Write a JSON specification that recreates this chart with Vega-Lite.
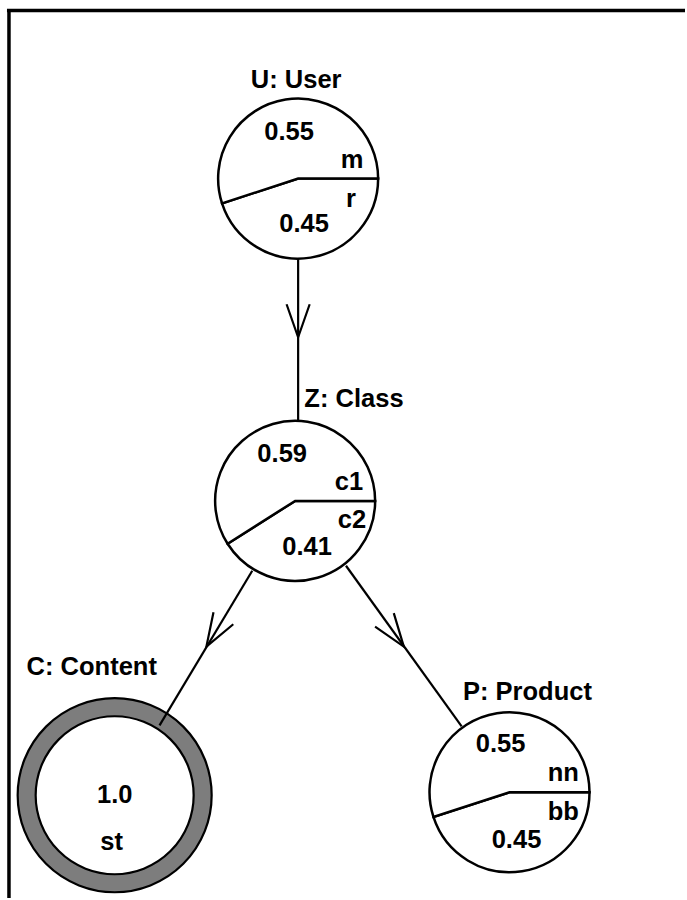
{
  "$schema": "https://vega.github.io/schema/vega-lite/v6.json",
  "width": 687,
  "height": 900,
  "autosize": {"type": "fit", "contains": "padding"},
  "padding": 0,
  "background": "white",
  "config": {"view": {"stroke": null}},
  "datasets": {
    "frame": [
      {"x": 7, "y": 10.5, "x2": 687, "y2": 10.5},
      {"x": 9, "y": 9, "x2": 9, "y2": 900}
    ],
    "edges": [
      {"from": "U", "to": "Z", "x": 299, "y": 259, "x2": 299, "y2": 422},
      {"from": "Z", "to": "C", "x": 253, "y": 572, "x2": 160, "y2": 727},
      {"from": "Z", "to": "P", "x": 347, "y": 567, "x2": 463, "y2": 728}
    ],
    "arrows": [
      {"from": "U", "to": "Z", "x": 299, "y": 338, "angle": 0},
      {"from": "Z", "to": "C", "x": 207, "y": 648, "angle": 31},
      {"from": "Z", "to": "P", "x": 405, "y": 648, "angle": 324}
    ],
    "wedges": [
      {"node": "U", "state": "r", "p": 0.45, "start": 0, "end": 0.45, "x": 299, "y": 179},
      {"node": "U", "state": "m", "p": 0.55, "start": 0.45, "end": 1, "x": 299, "y": 179},
      {"node": "Z", "state": "c2", "p": 0.41, "start": 0, "end": 0.41, "x": 296, "y": 502},
      {"node": "Z", "state": "c1", "p": 0.59, "start": 0.41, "end": 1, "x": 296, "y": 502},
      {"node": "P", "state": "bb", "p": 0.45, "start": 0, "end": 0.45, "x": 511, "y": 794},
      {"node": "P", "state": "nn", "p": 0.55, "start": 0.45, "end": 1, "x": 511, "y": 794}
    ],
    "evidence": [
      {"node": "C", "state": "st", "p": 1.0, "start": 0, "end": 1, "x": 115, "y": 797}
    ],
    "labels": [
      {"text": "U: User", "x": 297, "y": 88},
      {"text": "0.55", "x": 290, "y": 140},
      {"text": "m", "x": 353, "y": 168},
      {"text": "r", "x": 352, "y": 207},
      {"text": "0.45", "x": 305, "y": 233},
      {"text": "Z: Class", "x": 355, "y": 408},
      {"text": "0.59", "x": 283, "y": 463},
      {"text": "c1", "x": 350, "y": 491},
      {"text": "c2", "x": 353, "y": 529},
      {"text": "0.41", "x": 308, "y": 556},
      {"text": "C: Content", "x": 92, "y": 677},
      {"text": "1.0", "x": 115, "y": 805},
      {"text": "st", "x": 112, "y": 852},
      {"text": "P: Product", "x": 529, "y": 702},
      {"text": "0.55", "x": 502, "y": 754},
      {"text": "nn", "x": 565, "y": 783},
      {"text": "bb", "x": 565, "y": 822},
      {"text": "0.45", "x": 518, "y": 850}
    ]
  },
  "layer": [
    {
      "data": {"name": "frame"},
      "mark": {"type": "rule", "stroke": "black", "strokeWidth": 3.5},
      "encoding": {
        "x": {"field": "x", "type": "quantitative", "scale": {"domain": [0, 687], "nice": false, "zero": false}, "axis": null},
        "y": {"field": "y", "type": "quantitative", "scale": {"domain": [0, 900], "nice": false, "zero": false, "reverse": true}, "axis": null},
        "x2": {"field": "x2"},
        "y2": {"field": "y2"}
      }
    },
    {
      "data": {"name": "evidence"},
      "mark": {"type": "arc", "innerRadius": 79, "outerRadius": 97, "fill": "#7d7d7d", "stroke": "black", "strokeWidth": 2.2},
      "encoding": {
        "x": {"field": "x", "type": "quantitative"},
        "y": {"field": "y", "type": "quantitative"},
        "theta": {"field": "start", "type": "quantitative", "stack": null, "scale": {"domain": [0, 1], "range": [1.5708, 7.854]}},
        "theta2": {"field": "end"}
      }
    },
    {
      "data": {"name": "wedges"},
      "mark": {"type": "arc", "outerRadius": 80, "fill": "white", "stroke": "black", "strokeWidth": 2.5},
      "encoding": {
        "x": {"field": "x", "type": "quantitative"},
        "y": {"field": "y", "type": "quantitative"},
        "theta": {"field": "start", "type": "quantitative", "stack": null, "scale": {"domain": [0, 1], "range": [1.5708, 7.854]}},
        "theta2": {"field": "end"}
      }
    },
    {
      "data": {"name": "edges"},
      "mark": {"type": "rule", "stroke": "black", "strokeWidth": 2.2},
      "encoding": {
        "x": {"field": "x", "type": "quantitative"},
        "y": {"field": "y", "type": "quantitative"},
        "x2": {"field": "x2"},
        "y2": {"field": "y2"}
      }
    },
    {
      "data": {"name": "arrows"},
      "mark": {"type": "point", "shape": "M-0.35,-1L0,0L0.35,-1", "size": 4356, "filled": false, "stroke": "black", "strokeWidth": 2.2, "opacity": 1},
      "encoding": {
        "x": {"field": "x", "type": "quantitative"},
        "y": {"field": "y", "type": "quantitative"},
        "angle": {"field": "angle", "type": "quantitative", "scale": null}
      }
    },
    {
      "data": {"name": "labels"},
      "mark": {"type": "text", "font": "Liberation Sans", "fontWeight": "bold", "fontSize": 25.5, "baseline": "alphabetic", "align": "center", "color": "black"},
      "encoding": {
        "x": {"field": "x", "type": "quantitative"},
        "y": {"field": "y", "type": "quantitative"},
        "text": {"field": "text"}
      }
    }
  ]
}
